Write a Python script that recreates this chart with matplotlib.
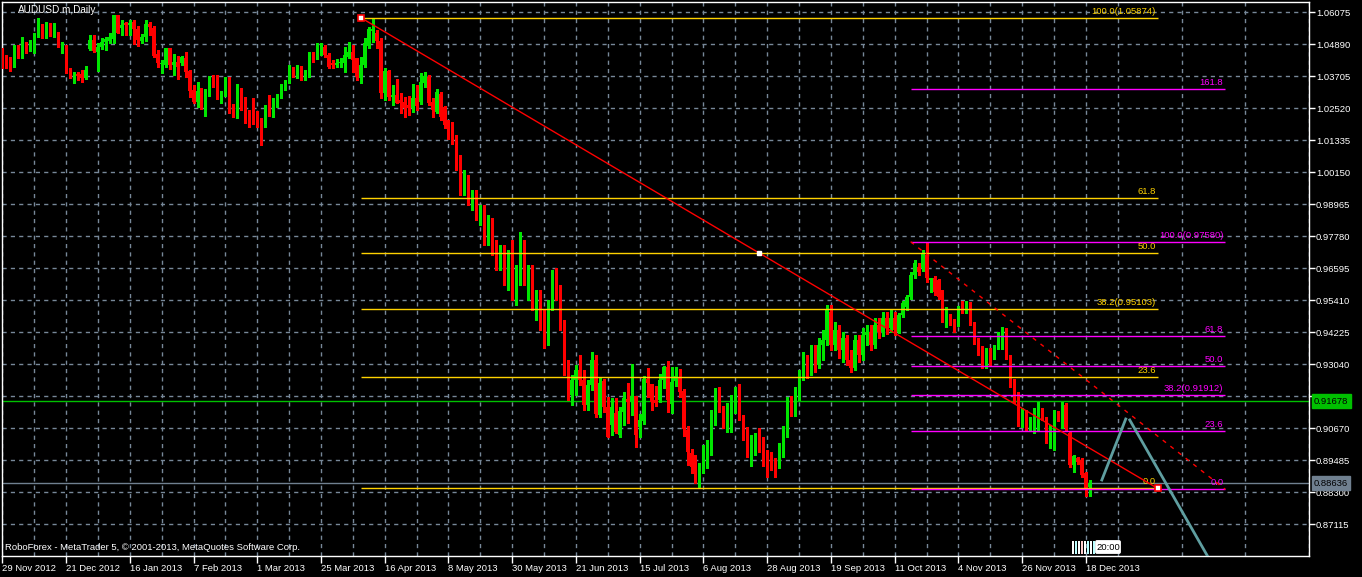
import matplotlib

matplotlib.use("Agg")
import matplotlib.pyplot as plt  # noqa: E402
from matplotlib.patches import Rectangle, FancyBboxPatch  # noqa: E402
import matplotlib.transforms as mtransforms  # noqa: E402

# daily AUDUSD.m candles, bar 0 = 29 Nov 2012, bar 273 = 19 Dec 2013
opens = [
    1.0468, 1.0433, 1.0428, 1.0418, 1.0470, 1.0443, 1.0493, 1.0483, 1.0483, 1.0523,
    1.0548, 1.0523, 1.0548, 1.0523, 1.0534, 1.0478, 1.0483, 1.0388, 1.0363, 1.0379,
    1.0379, 1.0363, 1.0470, 1.0505, 1.0462, 1.0478, 1.0499, 1.0502, 1.0507, 1.0597,
    1.0548, 1.0569, 1.0560, 1.0573, 1.0544, 1.0502, 1.0515, 1.0564, 1.0548, 1.0453,
    1.0416, 1.0412, 1.0474, 1.0412, 1.0425, 1.0421, 1.0437, 1.0391, 1.0320, 1.0277,
    1.0314, 1.0252, 1.0301, 1.0365, 1.0357, 1.0285, 1.0301, 1.0357, 1.0258, 1.0219,
    1.0301, 1.0256, 1.0227, 1.0233, 1.0211, 1.0203, 1.0190, 1.0256, 1.0233, 1.0268,
    1.0298, 1.0335, 1.0351, 1.0400, 1.0375, 1.0406, 1.0363, 1.0375, 1.0449, 1.0437,
    1.0458, 1.0480, 1.0449, 1.0418, 1.0412, 1.0418, 1.0418, 1.0443, 1.0462, 1.0437,
    1.0363, 1.0412, 1.0484, 1.0539, 1.0530, 1.0502, 1.0310, 1.0390, 1.0295, 1.0301,
    1.0283, 1.0277, 1.0264, 1.0252, 1.0289, 1.0277, 1.0347, 1.0369, 1.0277, 1.0240,
    1.0305, 1.0256, 1.0190, 1.0153, 1.0135, 1.0042, 0.9949, 0.9994, 0.9912, 0.9931,
    0.9857, 0.9883, 0.9764, 0.9838, 0.9727, 0.9672, 0.9727, 0.9616, 0.9709, 0.9561,
    0.9653, 0.9746, 0.9616, 0.9653, 0.9524, 0.9561, 0.9450, 0.9394, 0.9524, 0.9635,
    0.9561, 0.9450, 0.9283, 0.9190, 0.9246, 0.9283, 0.9246, 0.9153, 0.9227, 0.9320,
    0.9116, 0.9242, 0.9145, 0.9079, 0.9122, 0.9042, 0.9129, 0.9175, 0.9166, 0.9187,
    0.9071, 0.9095, 0.9251, 0.9231, 0.9170, 0.9172, 0.9246, 0.9295, 0.9157, 0.9243,
    0.9252, 0.9206, 0.9061, 0.8974, 0.8968, 0.8913, 0.8925, 0.8980, 0.8997, 0.9098,
    0.9187, 0.9147, 0.9108, 0.9116, 0.9132, 0.9187, 0.9113, 0.9067, 0.8968, 0.9001,
    0.9030, 0.9026, 0.8984, 0.8940, 0.8925, 0.8937, 0.8972, 0.9063, 0.9172, 0.9116,
    0.9184, 0.9264, 0.9320, 0.9275, 0.9357, 0.9301, 0.9375, 0.9394, 0.9498, 0.9375,
    0.9431, 0.9357, 0.9401, 0.9320, 0.9290, 0.9394, 0.9338, 0.9413, 0.9424, 0.9375,
    0.9450, 0.9424, 0.9475, 0.9438, 0.9475, 0.9425, 0.9487, 0.9517, 0.9554, 0.9635,
    0.9666, 0.9659, 0.9709, 0.9616, 0.9622, 0.9616, 0.9573, 0.9474, 0.9480, 0.9462,
    0.9456, 0.9530, 0.9505, 0.9530, 0.9456, 0.9394, 0.9363, 0.9301, 0.9357, 0.9332,
    0.9369, 0.9380, 0.9431, 0.9332, 0.9246, 0.9196, 0.9085, 0.9128, 0.9073, 0.9098,
    0.9098, 0.9135, 0.9104, 0.9024, 0.9067, 0.9122, 0.9104, 0.9153, 0.9048, 0.8931,
    0.8956, 0.8949, 0.8900, 0.8851,
]
highs = [
    1.0474, 1.0449, 1.0443, 1.0486, 1.0486, 1.0515, 1.0499, 1.0505, 1.0532, 1.0585,
    1.0564, 1.0573, 1.0567, 1.0569, 1.0534, 1.0499, 1.0486, 1.0400, 1.0388, 1.0388,
    1.0394, 1.0409, 1.0523, 1.0523, 1.0493, 1.0511, 1.0517, 1.0532, 1.0597, 1.0597,
    1.0579, 1.0573, 1.0579, 1.0579, 1.0557, 1.0527, 1.0579, 1.0573, 1.0557, 1.0468,
    1.0431, 1.0477, 1.0477, 1.0453, 1.0446, 1.0446, 1.0462, 1.0394, 1.0338, 1.0351,
    1.0326, 1.0324, 1.0372, 1.0375, 1.0375, 1.0317, 1.0369, 1.0369, 1.0268, 1.0342,
    1.0326, 1.0293, 1.0246, 1.0289, 1.0243, 1.0215, 1.0264, 1.0301, 1.0289, 1.0305,
    1.0342, 1.0357, 1.0412, 1.0406, 1.0412, 1.0409, 1.0394, 1.0462, 1.0462, 1.0493,
    1.0495, 1.0486, 1.0456, 1.0431, 1.0433, 1.0437, 1.0480, 1.0499, 1.0486, 1.0437,
    1.0443, 1.0511, 1.0552, 1.0583, 1.0542, 1.0511, 1.0400, 1.0394, 1.0338, 1.0359,
    1.0307, 1.0295, 1.0298, 1.0342, 1.0338, 1.0384, 1.0388, 1.0375, 1.0289, 1.0322,
    1.0314, 1.0260, 1.0209, 1.0200, 1.0153, 1.0079, 1.0024, 1.0005, 0.9949, 0.9949,
    0.9894, 0.9894, 0.9857, 0.9846, 0.9764, 0.9746, 0.9746, 0.9727, 0.9764, 0.9672,
    0.9794, 0.9764, 0.9672, 0.9672, 0.9579, 0.9579, 0.9505, 0.9542, 0.9653, 0.9660,
    0.9598, 0.9468, 0.9320, 0.9264, 0.9301, 0.9338, 0.9283, 0.9246, 0.9350, 0.9338,
    0.9252, 0.9248, 0.9184, 0.9178, 0.9178, 0.9147, 0.9203, 0.9234, 0.9305, 0.9187,
    0.9120, 0.9261, 0.9289, 0.9231, 0.9224, 0.9268, 0.9298, 0.9316, 0.9293, 0.9293,
    0.9287, 0.9211, 0.9075, 0.8989, 0.8968, 0.8937, 0.9005, 0.9024, 0.9135, 0.9215,
    0.9219, 0.9150, 0.9162, 0.9190, 0.9219, 0.9231, 0.9116, 0.9071, 0.9042, 0.9048,
    0.9067, 0.9036, 0.8987, 0.8980, 0.8956, 0.9011, 0.9075, 0.9184, 0.9187, 0.9219,
    0.9283, 0.9350, 0.9338, 0.9375, 0.9375, 0.9401, 0.9431, 0.9524, 0.9524, 0.9461,
    0.9450, 0.9424, 0.9413, 0.9357, 0.9413, 0.9413, 0.9438, 0.9450, 0.9450, 0.9475,
    0.9475, 0.9498, 0.9498, 0.9505, 0.9498, 0.9495, 0.9540, 0.9560, 0.9645, 0.9690,
    0.9680, 0.9727, 0.9758, 0.9625, 0.9630, 0.9620, 0.9580, 0.9517, 0.9490, 0.9470,
    0.9520, 0.9540, 0.9540, 0.9535, 0.9460, 0.9400, 0.9370, 0.9365, 0.9365, 0.9375,
    0.9425, 0.9443, 0.9440, 0.9340, 0.9250, 0.9200, 0.9141, 0.9135, 0.9110, 0.9141,
    0.9165, 0.9141, 0.9110, 0.9080, 0.9135, 0.9130, 0.9165, 0.9160, 0.9055, 0.8968,
    0.8960, 0.8956, 0.8906, 0.8876,
]
lows = [
    1.0400, 1.0400, 1.0391, 1.0406, 1.0437, 1.0437, 1.0458, 1.0465, 1.0458, 1.0517,
    1.0511, 1.0511, 1.0520, 1.0515, 1.0478, 1.0458, 1.0381, 1.0363, 1.0344, 1.0357,
    1.0351, 1.0359, 1.0468, 1.0462, 1.0391, 1.0470, 1.0468, 1.0493, 1.0493, 1.0530,
    1.0523, 1.0523, 1.0523, 1.0490, 1.0483, 1.0493, 1.0502, 1.0523, 1.0443, 1.0404,
    1.0384, 1.0404, 1.0396, 1.0375, 1.0359, 1.0412, 1.0369, 1.0293, 1.0270, 1.0256,
    1.0248, 1.0224, 1.0298, 1.0330, 1.0285, 1.0273, 1.0298, 1.0236, 1.0221, 1.0217,
    1.0246, 1.0199, 1.0182, 1.0194, 1.0184, 1.0116, 1.0184, 1.0224, 1.0221, 1.0258,
    1.0290, 1.0318, 1.0344, 1.0367, 1.0363, 1.0357, 1.0357, 1.0369, 1.0425, 1.0433,
    1.0449, 1.0443, 1.0400, 1.0400, 1.0406, 1.0406, 1.0388, 1.0440, 1.0388, 1.0357,
    1.0344, 1.0406, 1.0474, 1.0499, 1.0474, 1.0289, 1.0283, 1.0283, 1.0264, 1.0270,
    1.0233, 1.0221, 1.0227, 1.0240, 1.0246, 1.0268, 1.0330, 1.0264, 1.0221, 1.0233,
    1.0209, 1.0180, 1.0140, 1.0120, 1.0024, 0.9931, 0.9931, 0.9894, 0.9875, 0.9838,
    0.9820, 0.9746, 0.9746, 0.9709, 0.9653, 0.9653, 0.9598, 0.9579, 0.9542, 0.9524,
    0.9598, 0.9598, 0.9542, 0.9505, 0.9468, 0.9431, 0.9364, 0.9375, 0.9505, 0.9542,
    0.9431, 0.9264, 0.9172, 0.9153, 0.9190, 0.9227, 0.9135, 0.9135, 0.9209, 0.9110,
    0.9110, 0.9129, 0.9034, 0.9042, 0.9048, 0.9036, 0.9079, 0.9088, 0.9116, 0.8999,
    0.9034, 0.9083, 0.9184, 0.9135, 0.9150, 0.9166, 0.9215, 0.9129, 0.9125, 0.9224,
    0.9184, 0.9039, 0.8931, 0.8903, 0.8863, 0.8845, 0.8900, 0.8919, 0.8968, 0.9079,
    0.9129, 0.9067, 0.9054, 0.9054, 0.9122, 0.9098, 0.9024, 0.8962, 0.8927, 0.8968,
    0.8980, 0.8927, 0.8885, 0.8913, 0.8885, 0.8919, 0.8962, 0.9034, 0.9113, 0.9113,
    0.9172, 0.9246, 0.9253, 0.9264, 0.9275, 0.9290, 0.9320, 0.9375, 0.9357, 0.9357,
    0.9327, 0.9312, 0.9301, 0.9275, 0.9283, 0.9312, 0.9320, 0.9375, 0.9357, 0.9364,
    0.9401, 0.9409, 0.9416, 0.9424, 0.9413, 0.9419, 0.9480, 0.9505, 0.9545, 0.9622,
    0.9635, 0.9650, 0.9610, 0.9573, 0.9560, 0.9545, 0.9460, 0.9443, 0.9450, 0.9425,
    0.9445, 0.9495, 0.9495, 0.9450, 0.9380, 0.9340, 0.9290, 0.9290, 0.9300, 0.9325,
    0.9360, 0.9360, 0.9325, 0.9220, 0.9160, 0.9075, 0.9073, 0.9060, 0.9060, 0.9048,
    0.9061, 0.9098, 0.9011, 0.8993, 0.8987, 0.9095, 0.9067, 0.9060, 0.8925, 0.8906,
    0.8935, 0.8887, 0.8816, 0.8816,
]
closes = [
    1.0431, 1.0425, 1.0416, 1.0470, 1.0453, 1.0486, 1.0486, 1.0489, 1.0527, 1.0557,
    1.0523, 1.0567, 1.0523, 1.0532, 1.0480, 1.0483, 1.0388, 1.0369, 1.0379, 1.0373,
    1.0363, 1.0394, 1.0505, 1.0465, 1.0480, 1.0499, 1.0507, 1.0515, 1.0597, 1.0532,
    1.0560, 1.0562, 1.0569, 1.0544, 1.0505, 1.0515, 1.0564, 1.0554, 1.0446, 1.0421,
    1.0418, 1.0474, 1.0412, 1.0425, 1.0404, 1.0441, 1.0388, 1.0317, 1.0277, 1.0316,
    1.0252, 1.0305, 1.0363, 1.0357, 1.0301, 1.0305, 1.0354, 1.0252, 1.0246, 1.0316,
    1.0252, 1.0224, 1.0221, 1.0209, 1.0199, 1.0190, 1.0256, 1.0231, 1.0268, 1.0298,
    1.0335, 1.0351, 1.0400, 1.0375, 1.0406, 1.0363, 1.0379, 1.0456, 1.0437, 1.0458,
    1.0486, 1.0449, 1.0406, 1.0412, 1.0421, 1.0425, 1.0449, 1.0462, 1.0431, 1.0369,
    1.0412, 1.0493, 1.0546, 1.0544, 1.0502, 1.0310, 1.0390, 1.0295, 1.0301, 1.0273,
    1.0270, 1.0252, 1.0252, 1.0289, 1.0260, 1.0351, 1.0372, 1.0273, 1.0246, 1.0314,
    1.0221, 1.0190, 1.0153, 1.0135, 1.0042, 0.9949, 0.9994, 0.9912, 0.9931, 0.9857,
    0.9883, 0.9764, 0.9838, 0.9727, 0.9672, 0.9727, 0.9616, 0.9709, 0.9561, 0.9653,
    0.9746, 0.9616, 0.9653, 0.9524, 0.9561, 0.9450, 0.9394, 0.9524, 0.9635, 0.9561,
    0.9450, 0.9283, 0.9190, 0.9246, 0.9283, 0.9246, 0.9153, 0.9227, 0.9320, 0.9120,
    0.9234, 0.9145, 0.9036, 0.9145, 0.9054, 0.9131, 0.9178, 0.9166, 0.9187, 0.9042,
    0.9098, 0.9248, 0.9236, 0.9166, 0.9160, 0.9246, 0.9295, 0.9172, 0.9240, 0.9262,
    0.9203, 0.9063, 0.8980, 0.8925, 0.8900, 0.8927, 0.8987, 0.8999, 0.9098, 0.9194,
    0.9135, 0.9108, 0.9125, 0.9141, 0.9182, 0.9104, 0.9071, 0.8968, 0.9005, 0.9024,
    0.8999, 0.8980, 0.8937, 0.8925, 0.8900, 0.8974, 0.9061, 0.9172, 0.9122, 0.9184,
    0.9264, 0.9320, 0.9275, 0.9357, 0.9301, 0.9375, 0.9394, 0.9505, 0.9375, 0.9431,
    0.9357, 0.9401, 0.9320, 0.9290, 0.9394, 0.9338, 0.9413, 0.9424, 0.9375, 0.9450,
    0.9424, 0.9475, 0.9438, 0.9475, 0.9431, 0.9487, 0.9530, 0.9554, 0.9635, 0.9678,
    0.9647, 0.9715, 0.9622, 0.9622, 0.9573, 0.9554, 0.9474, 0.9517, 0.9462, 0.9437,
    0.9511, 0.9505, 0.9530, 0.9456, 0.9388, 0.9351, 0.9301, 0.9357, 0.9308, 0.9369,
    0.9419, 0.9431, 0.9332, 0.9227, 0.9172, 0.9085, 0.9122, 0.9067, 0.9104, 0.9104,
    0.9135, 0.9104, 0.9024, 0.9073, 0.9104, 0.9104, 0.9153, 0.9067, 0.8931, 0.8964,
    0.8943, 0.8894, 0.8845, 0.8863,
]

date_labels = ["29 Nov 2012", "21 Dec 2012", "16 Jan 2013", "7 Feb 2013", "1 Mar 2013",
               "25 Mar 2013", "16 Apr 2013", "8 May 2013", "30 May 2013", "21 Jun 2013",
               "15 Jul 2013", "6 Aug 2013", "28 Aug 2013", "19 Sep 2013", "11 Oct 2013",
               "4 Nov 2013", "26 Nov 2013", "18 Dec 2013"]
price_ticks = [0.87115, 0.88300, 0.89485, 0.90670, 0.91855, 0.93040, 0.94225, 0.95410,
               0.96595, 0.97780, 0.98965, 1.00150, 1.01335, 1.02520, 1.03705, 1.04890,
               1.06075]

# fibonacci retracements: (start bar, end bar), (100 % price, 0 % price)
fib1_bars = (90, 290)
fib1_prices = (1.05874, 0.88445)
fib1_levels = [0.0, 23.6, 38.2, 50.0, 61.8, 100.0]
fib2_bars = (228, 307)
fib2_prices = (0.97580, 0.88408)
fib2_levels = [0.0, 23.6, 38.2, 50.0, 61.8, 100.0, 161.8]
mid_marker = (190, 0.97171)

bid_price = 0.88636
level_price = 0.91678

# hand drawn forecast zig-zag
arrow_bars = [276, 282]
arrow_prices = [0.88756, 0.91015]
arrow2_bars = [283, 305]
arrow2_prices = [0.90978, 0.8530]

W, H = 1362, 577
BG = "black"
GRID = "#778899"
BULL = "#00e600"
BEAR = "#ff0000"
GOLD = "#ffd200"
MAG = "#ff00ff"
FS = 6.8

plt.rcParams["font.family"] = ["Liberation Sans", "DejaVu Sans"]

fig = plt.figure(figsize=(W / 100, H / 100), dpi=100, facecolor=BG)
ax = fig.add_axes([2 / W, (H - 556) / H, 1307 / W, 554 / H], facecolor=BG)
ax.set_xlim(-0.075, 326.675)
ax.set_ylim(0.85941, 1.06456)

# grid and axes
ax.set_axisbelow(True)
ax.set_xticks(range(0, 273, 16))
ax.set_xticklabels(date_labels)
ax.set_xticks(range(8, 330, 16), minor=True)
ax.set_yticks(price_ticks)
ax.set_yticklabels([f"{p:.5f}" for p in price_ticks])
ax.yaxis.tick_right()
ax.grid(True, which="both", axis="x", color=GRID, ls=(0, (3, 3)), lw=1)
ax.grid(True, which="major", axis="y", color=GRID, ls=(0, (3, 3)), lw=1)
ax.tick_params(axis="y", direction="out", length=4, width=1, colors="white",
               labelsize=FS, pad=1)
ax.tick_params(axis="x", which="major", direction="out", length=5, width=1,
               colors="white", labelsize=FS, pad=1)
ax.tick_params(axis="x", which="minor", length=0)
for lab in ax.get_xticklabels():
    lab.set_ha("left")
for sp in ax.spines.values():
    sp.set_color("white")
    sp.set_linewidth(1)

# candles
min_h = 0.00037
for i in range(len(closes)):
    o, h, l, c = opens[i], highs[i], lows[i], closes[i]
    col = BULL if c >= o else BEAR
    ax.vlines(i, min(l, o, c), max(h, o, c), colors=col, lw=1, antialiased=False,
              zorder=3)
    ax.bar(i, max(abs(c - o), min_h), bottom=min(o, c), width=0.75, color=col,
           linewidth=0, antialiased=False, zorder=4)

# horizontal price lines
ax.axhline(level_price, color="#00c000", lw=1, zorder=2)
ax.axhline(bid_price, color="#708090", lw=1, zorder=2)


def draw_fib(bars, prices, levels, color, zorder):
    hi, lo = prices
    for lvl in levels:
        p = lo + (hi - lo) * lvl / 100.0
        ax.plot(bars, [p, p], color=color, lw=1, zorder=zorder, solid_capstyle="butt")
        txt = f"{lvl:.1f}"
        if lvl in (100.0, 38.2):
            txt += f"({p:.5f})"
        ax.annotate(txt, (bars[1], p), xytext=(-2, 2), textcoords="offset pixels",
                    ha="right", va="bottom", color=color, fontsize=FS, zorder=zorder)


draw_fib(fib1_bars, fib1_prices, fib1_levels, GOLD, 5)
draw_fib(fib2_bars, fib2_prices, fib2_levels, MAG, 5)

ax.plot(fib1_bars, fib1_prices, color=BEAR, lw=1, zorder=6)
ax.plot(fib2_bars, fib2_prices, color=BEAR, lw=1, ls=(0, (3, 4)), zorder=6)
ax.plot(fib1_bars, fib1_prices, ls="none", marker="s", ms=5, mfc="white", mec=BEAR,
        mew=1.2, zorder=7)
ax.plot([mid_marker[0]], [mid_marker[1]], ls="none", marker="s", ms=2.5, mfc="white",
        mec="white", zorder=7)

ax.plot(arrow_bars, arrow_prices, color="#5f9ea0", lw=2, zorder=6)
ax.plot(arrow2_bars, arrow2_prices, color="#5f9ea0", lw=2, zorder=6)

# price labels on the right
blend = mtransforms.blended_transform_factory(ax.transAxes, ax.transData)
for p, fc in ((level_price, "#00c000"), (bid_price, "#708090")):
    ax.text(1.0 + 5 / 1307, p, f"{p:.5f}", transform=blend, ha="left", va="center",
            fontsize=FS, color="black", clip_on=False, zorder=10,
            bbox=dict(boxstyle="square,pad=0.25", fc=fc, ec=fc))

# texts
fig.text(18 / W, 1 - 10 / H, "AUDUSD.m,Daily", color="white", fontsize=FS + 0.4,
         va="center", ha="left")
fig.text(5 / W, 1 - 548 / H,
         "RoboForex - MetaTrader 5, \u00a9 2001-2013, MetaQuotes Software Corp.",
         color="white", fontsize=FS, va="center", ha="left")

# small time widget at the bottom
ov = fig.add_axes([0, 0, 1, 1], facecolor="none")
ov.set_xlim(0, W)
ov.set_ylim(H, 0)
ov.axis("off")
stripe_cols = ["white", "#bff", "white", "#fcc", "white", "#bff", "white", "#bff"]
for k, sc in enumerate(stripe_cols):
    ov.add_patch(Rectangle((1072 + 3 * k, 541), 1.5, 13, fc=sc, ec="none"))
ov.add_patch(FancyBboxPatch((1097, 542), 22, 10, boxstyle="round,pad=1.2",
                            fc="white", ec="white"))
ov.text(1108, 547.5, "20:00", color="black", fontsize=FS, ha="center", va="center")

fig.savefig("out.png", dpi=100, facecolor=BG)
